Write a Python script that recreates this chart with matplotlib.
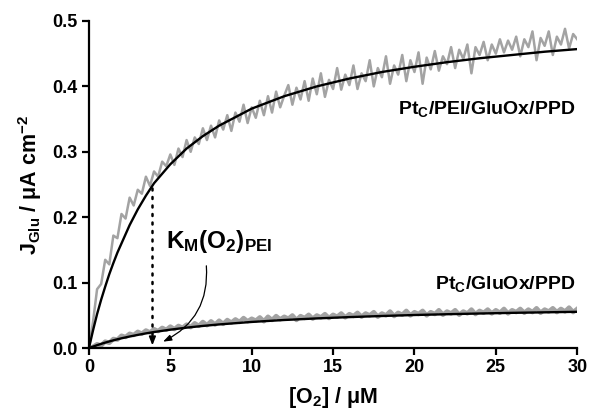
import numpy as np
import matplotlib
matplotlib.use("Agg")
import matplotlib.pyplot as plt

plt.rcParams['font.family'] = ['Liberation Sans', 'DejaVu Sans']
plt.rcParams['font.weight'] = 'bold'
plt.rcParams['mathtext.fontset'] = 'custom'
plt.rcParams['mathtext.rm'] = 'Liberation Sans:bold'
plt.rcParams['mathtext.it'] = 'Liberation Sans:bold'
plt.rcParams['mathtext.bf'] = 'Liberation Sans:bold'
plt.rcParams['mathtext.default'] = 'rm'

# ---- fitted curves ----
fit_x = [0, 0.25, 0.5, 0.75, 1, 1.25, 1.5, 1.75, 2, 2.5, 3, 3.5, 4, 5, 6, 7, 8, 10, 12, 14, 16, 18, 20, 22, 24, 26, 28, 30]
fit_pei = [0, 0.027, 0.052, 0.074, 0.094, 0.113, 0.130, 0.146, 0.160, 0.188, 0.212, 0.233, 0.252, 0.281, 0.305, 0.324,
           0.340, 0.366, 0.385, 0.400, 0.412, 0.422, 0.430, 0.437, 0.443, 0.448, 0.453, 0.457]
fit_nopei = [0, 0.0023, 0.0045, 0.0065, 0.0084, 0.0102, 0.0119, 0.0135, 0.0150, 0.0177, 0.0202, 0.0225, 0.0246,
             0.0282, 0.0313, 0.0339, 0.0362, 0.0400, 0.0430, 0.0454, 0.0474, 0.0491, 0.0506, 0.0518, 0.0529,
             0.0539, 0.0547, 0.0555]

raw_pei = [0.000, 0.040, 0.090, 0.098, 0.135, 0.128, 0.172, 0.168, 0.205, 0.198, 0.230, 0.218, 0.242, 0.236, 0.262,
           0.248, 0.270, 0.262, 0.285, 0.278, 0.296, 0.280, 0.305, 0.292, 0.318, 0.300, 0.322, 0.312, 0.336, 0.318,
           0.340, 0.322, 0.348, 0.334, 0.356, 0.332, 0.360, 0.346, 0.372, 0.344, 0.368, 0.352, 0.378, 0.356, 0.385,
           0.360, 0.392, 0.368, 0.386, 0.402, 0.372, 0.398, 0.380, 0.408, 0.378, 0.412, 0.388, 0.420, 0.384, 0.410,
           0.396, 0.428, 0.395, 0.418, 0.402, 0.432, 0.396, 0.420, 0.408, 0.440, 0.400, 0.428, 0.414, 0.446, 0.404,
           0.432, 0.418, 0.448, 0.408, 0.440, 0.422, 0.452, 0.404, 0.444, 0.426, 0.454, 0.424, 0.446, 0.434, 0.460,
           0.428, 0.456, 0.442, 0.464, 0.420, 0.460, 0.448, 0.468, 0.440, 0.464, 0.450, 0.472, 0.452, 0.470, 0.456,
           0.476, 0.446, 0.472, 0.460, 0.484, 0.440, 0.474, 0.462, 0.484, 0.448, 0.476, 0.464, 0.488, 0.458, 0.480,
           0.472]
raw_nopei = [0.000, 0.002, 0.006, 0.004, 0.010, 0.008, 0.014, 0.013, 0.019, 0.017, 0.022, 0.020, 0.025, 0.022, 0.027,
             0.024, 0.029, 0.026, 0.031, 0.028, 0.033, 0.029, 0.034, 0.031, 0.036, 0.032, 0.038, 0.034, 0.040, 0.035,
             0.041, 0.036, 0.042, 0.037, 0.043, 0.039, 0.044, 0.040, 0.046, 0.041, 0.045, 0.042, 0.047, 0.041, 0.048,
             0.043, 0.049, 0.044, 0.048, 0.045, 0.050, 0.043, 0.049, 0.046, 0.051, 0.045, 0.050, 0.047, 0.052, 0.046,
             0.051, 0.048, 0.053, 0.047, 0.052, 0.049, 0.054, 0.048, 0.053, 0.050, 0.055, 0.048, 0.053, 0.050, 0.056,
             0.049, 0.054, 0.051, 0.057, 0.050, 0.055, 0.052, 0.057, 0.050, 0.055, 0.052, 0.058, 0.051, 0.056, 0.053,
             0.058, 0.051, 0.056, 0.053, 0.059, 0.052, 0.057, 0.054, 0.059, 0.053, 0.058, 0.054, 0.060, 0.053, 0.058,
             0.055, 0.060, 0.054, 0.059, 0.055, 0.061, 0.054, 0.059, 0.056, 0.061, 0.055, 0.060, 0.056, 0.062, 0.055,
             0.060]
raw_x = np.linspace(0, 30, len(raw_pei))

km_x = 3.9
km_y = 0.25

xticks = [0, 5, 10, 15, 20, 25, 30]
yticks = [0.0, 0.1, 0.2, 0.3, 0.4, 0.5]

fig = plt.figure(figsize=(5.89, 4.11), dpi=100)
ax = fig.add_axes([0.151, 0.153, 0.829, 0.796])

gray = '#a3a3a3'
ax.plot(raw_x, raw_pei, color=gray, lw=1.8, zorder=2)
ax.plot(raw_x, raw_nopei, color=gray, lw=3.2, zorder=2)
ax.plot(fit_x, fit_pei, color='black', lw=1.7, zorder=3)
ax.plot(fit_x, fit_nopei, color='black', lw=1.7, zorder=3)

# dotted KM marker with arrow head
ax.plot([km_x, km_x], [km_y - 0.005, 0.018], color='black', lw=1.8, ls=(0, (0.8, 2.6)),
        dash_capstyle='round', zorder=4)
ax.annotate('', xy=(km_x, 0.0), xytext=(km_x, 0.022),
            arrowprops=dict(arrowstyle='-|>,head_length=0.5,head_width=0.2', color='black', lw=1.2),
            zorder=5)

ax.text(4.75, 0.163, r'K$_{M}$(O$_{2}$)$_{PEI}$', fontsize=17.5, fontweight='bold', va='center', ha='left')
ax.annotate('', xy=(4.4, 0.008), xytext=(7.2, 0.13),
            arrowprops=dict(arrowstyle='-|>,head_length=0.5,head_width=0.18', color='black', lw=0.9,
                            connectionstyle='arc3,rad=-0.35'))

ax.text(29.9, 0.365, r'Pt$_{C}$/PEI/GluOx/PPD', fontsize=14, fontweight='bold', ha='right', va='center')
ax.text(29.9, 0.098, r'Pt$_{C}$/GluOx/PPD', fontsize=14, fontweight='bold', ha='right', va='center')

ax.set_xlim(0, 30)
ax.set_ylim(0, 0.5)
ax.set_xticks(xticks)
ax.set_yticks(yticks)
ax.set_xticklabels([str(t) for t in xticks])
ax.set_yticklabels(['%.1f' % t for t in yticks])
for s in ['top', 'right']:
    ax.spines[s].set_visible(False)
for s in ['left', 'bottom']:
    ax.spines[s].set_linewidth(1.6)
ax.tick_params(direction='out', length=5, width=1.6, labelsize=13, pad=3)
for lab in ax.get_xticklabels() + ax.get_yticklabels():
    lab.set_fontweight('bold')

ax.set_xlabel(r'[O$_{2}$] / μM', fontsize=15.5, fontweight='bold', labelpad=6)
ax.set_ylabel(r'J$_{Glu}$ / μA cm$^{-2}$', fontsize=15.5, fontweight='bold', labelpad=6)

fig.savefig('out.png', dpi=100)
